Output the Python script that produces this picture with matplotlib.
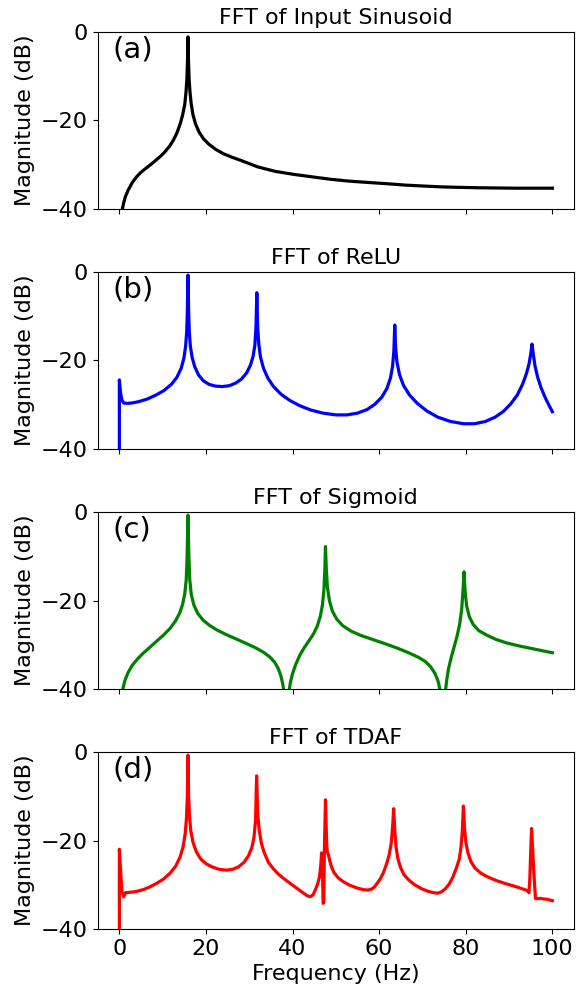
import numpy as np
import matplotlib.pyplot as plt

## Values (frequency in Hz, magnitude in dB)

freq_sin = [0.7, 1.0, 1.4, 2.0, 3.0, 4.0, 5.0, 6.0, 7.2, 8.3, 9.5, 10.6, 11.6, 12.5,
            13.3, 14.1, 14.6, 15.1, 15.4, 15.6, 15.75, 15.85, 15.95, 16.1, 16.3, 16.6,
            17.0, 17.6, 18.4, 19.4, 20.6, 22.2, 24.0, 26.0, 28.0, 32.0, 36.0, 40.4, 45.0,
            48.9, 53.0, 57.4, 62.0, 66.0, 70.0, 74.3, 78.0, 82.8, 87.0, 91.3, 95.5, 100]
mag_sin = [-40, -38.6, -37.2, -35.8, -34.0, -32.7, -31.7, -30.9, -30.0, -29.1, -28.1, -27.0, -25.8, -24.4,
           -22.8, -20.6, -18.8, -16.4, -13.5, -10.5, -6.0, -1.1, -6.0, -10.5, -13.5, -16.3,
           -18.7, -20.8, -22.6, -24.1, -25.3, -26.5, -27.5, -28.3, -29.0, -30.5, -31.5, -32.2, -32.8,
           -33.3, -33.7, -34.0, -34.3, -34.6, -34.8, -35.0, -35.1, -35.2, -35.25, -35.3, -35.3, -35.3]

freq_relu = [0, 0, 0.3, 0.6, 1.0, 1.8, 3.0, 4.5, 6.5, 8.5, 10.3, 12.0, 13.3, 14.3, 14.9, 15.3,
             15.55, 15.7, 15.85, 16.0, 16.15, 16.4, 16.8, 17.4, 18.3, 19.4, 20.7, 22.2, 23.8,
             25.4, 26.9, 28.2, 29.4, 30.3, 30.9, 31.3, 31.55, 31.75, 31.95, 32.2, 32.6, 33.3,
             34.3, 35.6, 37.3, 39.3, 41.6, 44.2, 47.0, 50.0, 52.6, 55.0, 57.2, 59.0, 60.6, 61.8,
             62.6, 63.1, 63.4, 63.6, 63.8, 64.1, 64.7, 65.6, 67.0, 68.8, 71.0, 73.5, 76.5, 79.5,
             82.0, 84.5, 86.8, 88.7, 90.4, 91.9, 93.1, 94.0, 94.6, 95.0, 95.3, 95.6, 96.0, 96.6,
             97.4, 98.3, 99.2, 100]
mag_relu = [-40, -24.4, -27.5, -29.0, -29.6, -29.7, -29.6, -29.3, -28.7, -27.8, -26.8, -25.4, -23.8, -21.7, -19.5, -16.8,
            -13.5, -9.0, -0.7, -9.0, -13.5, -16.8, -19.3, -21.4, -23.3, -24.6, -25.4, -25.8, -25.9,
            -25.7, -25.1, -24.2, -22.8, -21.0, -19.0, -16.5, -12.5, -4.7, -12.5, -16.3, -19.3, -21.8,
            -24.0, -25.9, -27.6, -29.0, -30.2, -31.2, -31.9, -32.3, -32.3, -31.9, -31.1, -29.9, -28.3, -26.3,
            -24.0, -21.3, -17.8, -12.0, -17.0, -20.3, -23.2, -25.6, -27.8, -29.7, -31.4, -32.8, -33.8, -34.3,
            -34.3, -33.8, -32.8, -31.5, -29.8, -27.8, -25.4, -23.0, -20.8, -18.6, -16.3, -18.6, -21.3, -23.8,
            -26.2, -28.3, -30.1, -31.6]

freq_sig = [0.8, 1.3, 2.0, 3.0, 4.2, 5.5, 7.0, 8.6, 10.2, 11.7, 12.9, 13.9, 14.6, 15.1, 15.45,
            15.65, 15.85, 16.05, 16.25, 16.6, 17.2, 18.1, 19.3, 20.8, 22.6, 24.7, 27.0, 29.3,
            31.5, 33.3, 34.8, 35.9, 36.7, 37.3, 37.7, 38.0, 38.6, 39.2, 39.5, 40.0, 40.7, 41.6,
            42.6, 43.7, 44.8, 45.7, 46.4, 46.9, 47.25, 47.45, 47.6, 47.8, 48.05, 48.5, 49.2,
            50.2, 51.6, 53.5, 55.8, 58.5, 61.5, 64.3, 66.8, 69.0, 70.7, 71.9, 72.9, 73.6, 74.1,
            74.7, 75.3, 75.6, 76.0, 76.6, 77.3, 78.0, 78.6, 79.05, 79.35, 79.6, 79.85, 80.2,
            80.8, 81.7, 83.0, 84.8, 87.0, 89.5, 92.5, 95.5, 98.0, 100]
mag_sig = [-40, -38.0, -36.3, -34.6, -33.2, -31.9, -30.6, -29.2, -27.8, -26.3, -24.7, -22.9, -20.9, -18.5, -15.2,
           -10.0, -0.7, -10.0, -15.2, -18.6, -21.0, -22.9, -24.4, -25.6, -26.7, -27.7, -28.7, -29.7,
           -30.7, -31.7, -32.8, -34.0, -35.4, -37.0, -38.7, -40.5, -55.0, -40.5, -38.5, -36.5, -34.5, -32.5,
           -30.8, -29.2, -27.6, -25.8, -23.6, -21.0, -17.5, -13.0, -7.8, -13.0, -17.0, -20.0, -22.4,
           -24.2, -25.7, -26.9, -27.9, -28.8, -29.8, -30.8, -31.8, -32.8, -33.8, -35.0, -36.5, -38.2, -40.5,
           -55.0, -40.5, -38.0, -35.5, -33.0, -30.5, -28.0, -25.3, -22.0, -18.0, -13.5, -18.0, -21.2,
           -23.6, -25.4, -26.8, -27.8, -28.8, -29.6, -30.3, -30.9, -31.4, -31.8]

freq_tdaf = [0, 0, 0.3, 0.6, 1.0, 1.4, 2.5, 4.0, 5.5, 7.0, 8.6, 10.2, 11.7, 13.0, 14.0, 14.7,
             15.2, 15.5, 15.7, 15.85, 16.0, 16.2, 16.5, 17.0, 17.8, 18.8, 20.1, 21.5, 23.0, 24.7,
             26.2, 27.6, 28.8, 29.8, 30.6, 31.1, 31.45, 31.7, 31.95, 32.3, 32.8, 33.4, 34.4, 35.5,
             36.6, 38.1, 39.6, 41.0, 42.4, 43.4, 44.1, 44.7, 45.2, 45.8, 46.2, 46.5, 46.7, 46.85,
             47.05, 47.2, 47.35, 47.6, 47.85, 48.0, 48.3, 48.6, 49.0, 49.6, 50.5, 51.7, 53.2, 54.8,
             56.3, 57.4, 58.2, 58.9, 59.6, 60.3, 61.0, 61.7, 62.3, 62.8, 63.1, 63.35, 63.6, 63.9,
             64.3, 64.9, 65.7, 66.8, 68.2, 69.8, 71.3, 72.6, 73.5, 74.4, 75.3, 76.2, 77.0, 77.8,
             78.5, 78.9, 79.2, 79.45, 79.7, 80.0, 80.5, 81.2, 82.2, 83.5, 85.2, 87.2, 89.4, 91.5,
             93.0, 94.2, 94.6, 94.8, 95.05, 95.2, 95.4, 95.7, 96.1, 97.2, 98.9, 100]
mag_tdaf = [-40, -22.0, -27.0, -31.6, -32.7, -31.8, -31.7, -31.5, -31.1, -30.5, -29.7, -28.7, -27.4, -25.8, -23.8, -21.5,
            -18.5, -15.0, -10.0, -0.7, -10.0, -14.6, -17.8, -20.4, -22.6, -24.2, -25.3, -26.0, -26.5, -26.7,
            -26.5, -25.9, -24.9, -23.5, -21.6, -19.2, -15.5, -5.4, -14.0, -17.7, -20.6, -22.6, -24.9, -26.3,
            -27.5, -28.7, -29.8, -30.8, -31.8, -32.5, -32.7, -32.3, -31.3, -29.8, -28.3, -25.8, -22.8, -23.0,
            -34.2, -34.0, -22.0, -10.8, -20.0, -22.5, -23.3, -24.6, -26.0, -27.3, -28.4, -29.3, -30.1, -30.7,
            -31.1, -31.2, -31.0, -30.5, -29.6, -28.6, -27.2, -25.3, -23.3, -20.5, -17.0, -12.8, -17.7, -21.5,
            -24.0, -26.0, -27.7, -28.9, -30.0, -30.9, -31.5, -31.8, -31.9, -31.6, -30.9, -29.8, -28.3, -26.3,
            -24.2, -21.5, -18.0, -12.2, -17.0, -20.3, -22.8, -24.8, -26.3, -27.4, -28.3, -29.1, -29.8, -30.4,
            -30.9, -31.3, -31.8, -28.5, -21.0, -17.3, -21.0, -27.0, -33.1, -33.1, -33.3, -33.6]

titles = ["FFT of Input Sinusoid", "FFT of ReLU", "FFT of Sigmoid", "FFT of TDAF"]
panel_tags = ["(a)", "(b)", "(c)", "(d)"]
colors = ["black", "blue", "green", "red"]
series = [(freq_sin, mag_sin), (freq_relu, mag_relu), (freq_sig, mag_sig), (freq_tdaf, mag_tdaf)]


fig = plt.figure(figsize=(5.83, 9.9), dpi=100)
bottoms = [0.7889, 0.5465, 0.3040, 0.0616]

axes = []
for i in range(4):
    ax = fig.add_axes([0.1676, bottoms[i], 0.817, 0.1788])
    f, m = series[i]
    ax.plot(f, m, color=colors[i], linewidth=2.3)
    ax.set_xlim(-5, 105)
    ax.set_ylim(-40, 0)
    ax.set_yticks([-40, -20, 0])
    ax.set_xticks([0, 20, 40, 60, 80, 100])
    ax.tick_params(labelsize=16)
    ax.set_ylabel('Magnitude (dB)', fontsize=16)
    ax.set_title(titles[i], fontsize=16)
    ax.text(0.032, 0.98, panel_tags[i], transform=ax.transAxes,
            fontsize=21, ha='left', va='top')
    if i < 3:
        ax.tick_params(labelbottom=False)
    axes.append(ax)

axes[-1].set_xlabel('Frequency (Hz)', fontsize=16)

plt.savefig('out.png', dpi=100)
